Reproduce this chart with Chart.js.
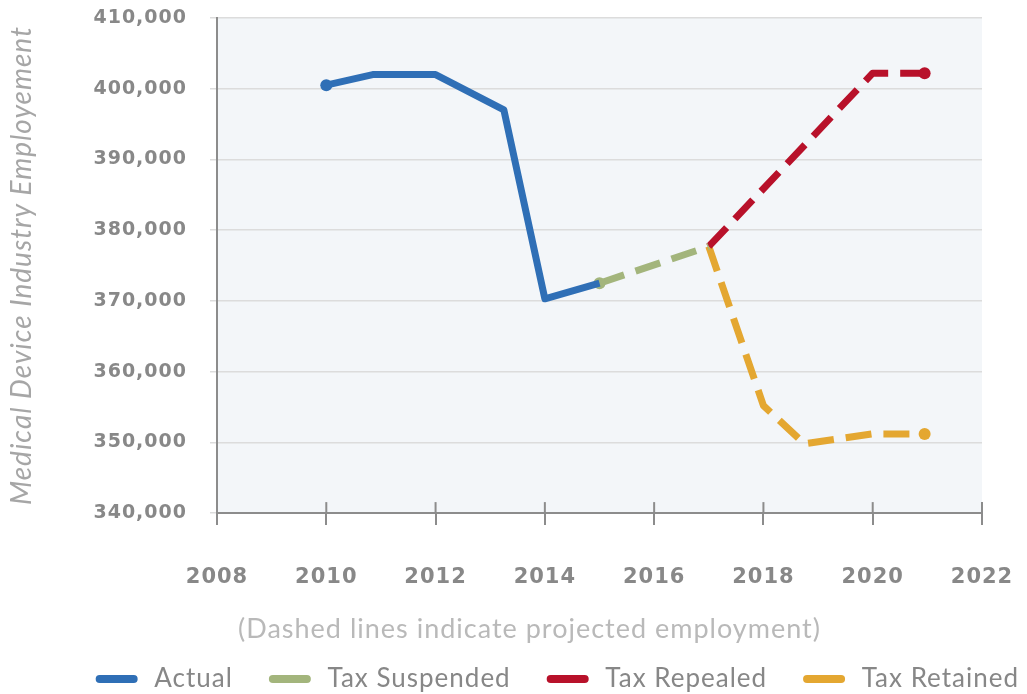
<!DOCTYPE html>
<html>
<head>
<meta charset="utf-8">
<script src="https://cdn.jsdelivr.net/npm/chart.js@4.4.1/dist/chart.umd.min.js"></script>
<style>
html, body { margin: 0; padding: 0; background: #fff; }
#wrap { width: 1027px; height: 694px; position: relative; }
</style>
</head>
<body>
<div id="wrap"><canvas id="chart"></canvas></div>
<script>
// values (x = year, y = employment)
const seriesNames = ['Actual', 'Tax Suspended', 'Tax Repealed', 'Tax Retained'];

const actualYears = [2010, 2010.85, 2012, 2013.25, 2014, 2015];
const actualValues = [400500, 402000, 402000, 397000, 370300, 372500];

const suspendedYears = [2015, 2017];
const suspendedValues = [372500, 377700];

const repealedYears = [2017, 2020, 2020.95];
const repealedValues = [377700, 402200, 402200];

const retainedYears = [2017, 2018, 2018.75, 2020, 2020.95];
const retainedValues = [377700, 355200, 349800, 351200, 351200];

// axis ranges / ticks
const xMin = 2008, xMax = 2022, xStep = 2;
const yMin = 340000, yMax = 410000, yStep = 10000;

const yTitle = 'Medical Device Industry Employement';
const note = '(Dashed lines indicate projected employment)';

function pts(xs, ys) {
  return xs.map((x, i) => ({ x: x, y: ys[i] }));
}

const axisGrey = '#8c8c8c';

// letter spacing on the canvas text
const spacing = {
  id: 'spacing',
  beforeUpdate(c) { c.ctx.letterSpacing = '1px'; },
  beforeDraw(c) { c.ctx.letterSpacing = '1px'; }
};

// light grey plot background
const plotBg = {
  id: 'plotBg',
  beforeDraw(c) {
    const a = c.chartArea, ctx = c.ctx;
    ctx.save();
    ctx.fillStyle = '#f3f6f9';
    ctx.fillRect(a.left, a.top, a.right - a.left, a.bottom - a.top);
    ctx.restore();
  }
};

// x tick marks also go a bit above the axis line
const upTicks = {
  id: 'upTicks',
  afterDraw(c) {
    const s = c.scales.x, a = c.chartArea, ctx = c.ctx;
    ctx.save();
    ctx.strokeStyle = axisGrey;
    ctx.lineWidth = 2;
    s.ticks.forEach(t => {
      const px = s.getPixelForValue(t.value);
      if (px <= a.left + 2) return;
      ctx.beginPath();
      ctx.moveTo(px, a.bottom - 11);
      ctx.lineTo(px, a.bottom);
      ctx.stroke();
    });
    ctx.restore();
  }
};

const ctx = document.getElementById('chart');

new Chart(ctx, {
  type: 'line',
  data: {
    datasets: [{
      label: seriesNames[0],
      data: pts(actualYears, actualValues),
      borderColor: '#2f6fb6',
      backgroundColor: '#2f6fb6',
      pointRadius: actualYears.map((v, i) => i === 0 ? 6 : 0)
    }, {
      label: seriesNames[1],
      data: pts(suspendedYears, suspendedValues),
      borderColor: '#a3b57c',
      backgroundColor: '#a3b57c',
      borderDash: [26, 12],
      pointRadius: suspendedYears.map((v, i) => i === 0 ? 6 : 0)
    }, {
      label: seriesNames[2],
      data: pts(repealedYears, repealedValues),
      borderColor: '#b8112a',
      backgroundColor: '#b8112a',
      borderDash: [26, 12],
      pointRadius: repealedYears.map((v, i) => i === repealedYears.length - 1 ? 6 : 0)
    }, {
      label: seriesNames[3],
      data: pts(retainedYears, retainedValues),
      borderColor: '#e4a731',
      backgroundColor: '#e4a731',
      borderDash: [26, 12],
      pointRadius: retainedYears.map((v, i) => i === retainedYears.length - 1 ? 6 : 0)
    }]
  },
  options: {
    responsive: true,
    maintainAspectRatio: false,
    animation: false,
    layout: { padding: { left: 0, right: -32, top: 0, bottom: -8 } },
    elements: {
      line: { tension: 0, borderWidth: 7, borderJoinStyle: 'round' },
      point: { borderWidth: 0, hoverRadius: 0 }
    },
    scales: {
      x: {
        type: 'linear',
        min: xMin,
        max: xMax,
        border: { display: true, color: axisGrey, width: 2 },
        grid: { drawOnChartArea: false, drawTicks: true, tickLength: 12, color: axisGrey, lineWidth: 2 },
        ticks: {
          stepSize: xStep,
          padding: 40,
          color: '#888',
          font: { family: 'DejaVu Sans', weight: 'bold', size: 21 },
          callback: v => String(v)
        },
        afterFit(s) {
          s.height = 101.2;
          s.paddingLeft = 0;
          s.paddingRight = 45;
        }
      },
      y: {
        min: yMin,
        max: yMax,
        border: { display: true, color: axisGrey, width: 2 },
        grid: { color: '#dcdcdc', lineWidth: 1.5, tickLength: 7 },
        ticks: {
          stepSize: yStep,
          padding: 23,
          color: '#888',
          font: { family: 'DejaVu Sans', weight: 'bold', size: 19 },
          callback: v => v.toLocaleString('en-US')
        },
        title: {
          display: true,
          text: yTitle,
          color: '#a6a6a6',
          font: { family: 'Lato', style: 'italic', size: 28 },
          padding: { top: 5, bottom: 0 }
        },
        afterFit(s) {
          s.width = 217;
          s.paddingTop = 18;
          s.paddingBottom = 0;
        }
      }
    },
    plugins: {
      legend: {
        position: 'bottom',
        align: 'end',
        labels: {
          usePointStyle: true,
          pointStyle: 'line',
          pointStyleWidth: 34,
          padding: 40,
          color: '#878787',
          font: { family: 'Lato', size: 26 },
          generateLabels(chart) {
            const items = Chart.defaults.plugins.legend.labels.generateLabels(chart);
            items.forEach(it => {
              const ds = chart.data.datasets[it.datasetIndex];
              it.text = ' ' + it.text;
              it.lineDash = [];
              it.lineWidth = 8;
              it.lineCap = 'round';
              it.pointStyle = 'line';
              it.strokeStyle = ds.borderColor;
            });
            return items;
          }
        }
      },
      title: {
        display: true,
        position: 'bottom',
        weight: 500,
        text: note,
        color: '#b9b9b9',
        font: { family: 'Lato', size: 27, weight: 'normal', lineHeight: 1.1 },
        padding: { top: 0, bottom: -18 }
      },
      tooltip: { enabled: false }
    }
  },
  plugins: [spacing, plotBg, upTicks]
});
</script>
</body>
</html>
